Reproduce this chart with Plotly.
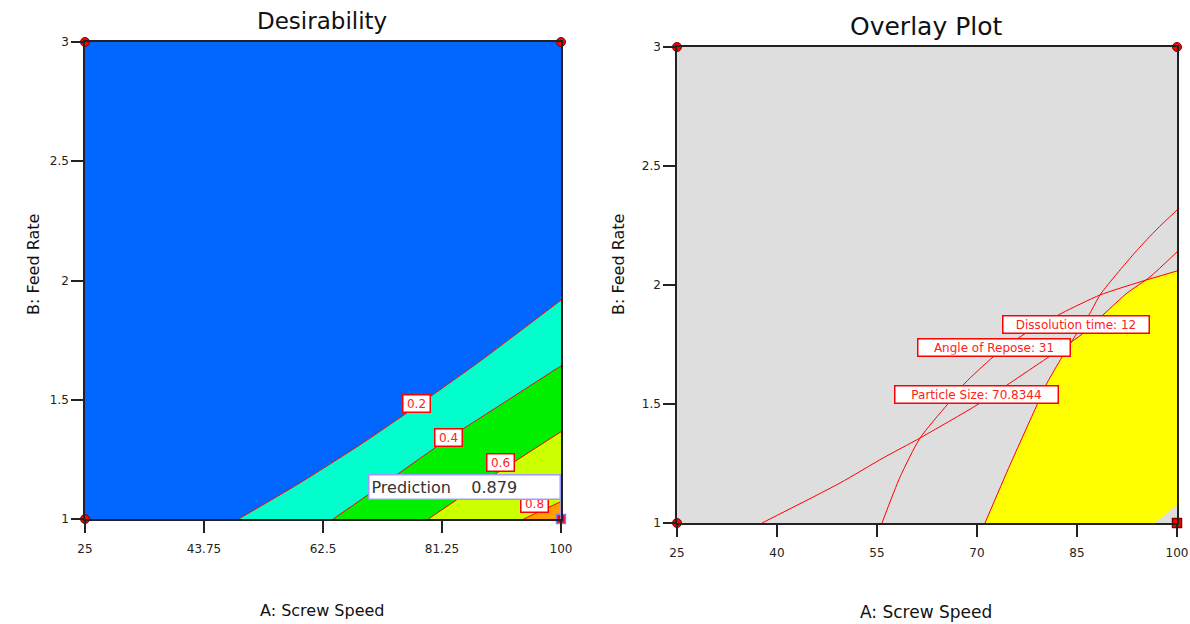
import plotly.graph_objects as go

# ---- factor ranges and tick marks ----
SPEED_RANGE = [25, 100]
FEED_RANGE = [1, 3]
D_SPEED_TICKS = [25, 43.75, 62.5, 81.25, 100]
O_SPEED_TICKS = [25, 40, 55, 70, 85, 100]
FEED_TICKS = [1, 1.5, 2, 2.5, 3]

# ---- desirability contours (screw speed, feed rate) ----
D_LEVELS = ["0.2", "0.4", "0.6", "0.8"]
D02_SPEED = [49.2, 58.6, 68.1, 77.3, 87.0, 100.0]
D02_FEED = [1.0, 1.147, 1.307, 1.474, 1.657, 1.918]
D04_SPEED = [64.1, 73.1, 82.4, 91.2, 100.0]
D04_FEED = [1.0, 1.166, 1.340, 1.491, 1.642]
D06_SPEED = [79.1, 84.2, 89.4, 100.0]
D06_FEED = [1.0, 1.092, 1.184, 1.366]
D08_SPEED = [94.1, 97.0, 100.0]
D08_FEED = [1.0, 1.036, 1.073]
D_LABEL_SPEED = [77.3, 82.35, 90.5, 95.9]
D_LABEL_FEED = [1.486, 1.340, 1.235, 1.063]
D_BASE_COLOR = "#0066FF"
D_BAND_COLORS = ["#00FFCC", "#00F000", "#CCFF00", "#FFA000"]
PREDICTION = 0.879

# ---- overlay constraint contours ----
PS_SPEED = [37.75, 49.45, 55.9, 61.45, 70.0, 74.95, 80.5, 85.6, 89.2, 92.5, 95.95, 100.0]
PS_FEED = [1.0, 1.168, 1.273, 1.357, 1.496, 1.588, 1.693, 1.790, 1.882, 1.966, 2.034, 2.139]
AR_SPEED = [55.75, 58.45, 61.45, 65.5, 68.2, 72.4, 76.9, 82.75, 88.45, 94.45, 100.0]
AR_FEED = [1.0, 1.193, 1.357, 1.496, 1.588, 1.697, 1.790, 1.882, 1.958, 2.013, 2.059]
DT_SPEED = [71.2, 74.95, 79.0, 80.5, 82.75, 85.0, 86.95, 88.45, 91.0, 94.0, 97.0, 100.0]
DT_FEED = [1.0, 1.244, 1.496, 1.588, 1.697, 1.798, 1.882, 1.958, 2.048, 2.146, 2.235, 2.315]
CORNER_SPEED = [96.7, 100.0]
CORNER_FEED = [1.0, 1.076]
O_LABELS = ["Particle Size: 70.8344", "Angle of Repose: 31", "Dissolution time: 12"]
O_LABEL_SPEED = [69.93, 72.55, 84.85]
O_LABEL_FEED = [1.540, 1.739, 1.836]
O_LABEL_WIDTH = [160, 149, 143]
GRAY = "#DEDEDE"
YELLOW = "#FFFF00"
RED = "#FF0000"

FONT = "DejaVu Sans"
W, H = 1190, 624

fig = go.Figure()

x_lo, x_hi = SPEED_RANGE
y_lo, y_hi = FEED_RANGE


def polygon(xs, ys, color, xa, ya):
    fig.add_trace(go.Scatter(x=xs, y=ys, fill="toself", fillcolor=color, mode="lines",
                             line=dict(width=0, color=color), xaxis=xa, yaxis=ya,
                             hoverinfo="skip", showlegend=False))


def contour_line(xs, ys, xa, ya):
    fig.add_trace(go.Scatter(x=xs, y=ys, mode="lines",
                             line=dict(color=RED, width=1, shape="spline", smoothing=0.6),
                             xaxis=xa, yaxis=ya, hoverinfo="skip", showlegend=False))


# ---- Desirability panel ----
d_lines = [(D02_SPEED, D02_FEED), (D04_SPEED, D04_FEED),
           (D06_SPEED, D06_FEED), (D08_SPEED, D08_FEED)]
for (sx, sy), col in zip(d_lines, D_BAND_COLORS):
    polygon(sx + [x_hi], sy + [y_lo], col, "x", "y")
for sx, sy in d_lines:
    contour_line(sx, sy, "x", "y")

# ---- Overlay panel ----
polygon(DT_SPEED + [x_hi], DT_FEED + [y_lo], YELLOW, "x2", "y2")
polygon(AR_SPEED + [x_hi, x_lo, x_lo], AR_FEED + [y_hi, y_hi, y_lo], GRAY, "x2", "y2")
polygon(PS_SPEED + [x_hi, x_lo, x_lo], PS_FEED + [y_hi, y_hi, y_lo], GRAY, "x2", "y2")
polygon(CORNER_SPEED + [x_hi], CORNER_FEED + [y_lo], GRAY, "x2", "y2")
for sx, sy in [(PS_SPEED, PS_FEED), (AR_SPEED, AR_FEED), (DT_SPEED, DT_FEED)]:
    contour_line(sx, sy, "x2", "y2")

# design-space corner points
for xa, ya, sq_line in [("x", "y", "#8080FF"), ("x2", "y2", "#800000")]:
    fig.add_trace(go.Scatter(x=[x_lo, x_lo, x_hi], y=[y_lo, y_hi, y_hi], mode="markers",
                             marker=dict(symbol="circle", size=9, color="#FF0000",
                                         line=dict(color="#800000", width=1)),
                             xaxis=xa, yaxis=ya, cliponaxis=False,
                             hoverinfo="skip", showlegend=False))
    fig.add_trace(go.Scatter(x=[x_hi], y=[y_lo], mode="markers",
                             marker=dict(symbol="square", size=9, color="#FF0000",
                                         line=dict(color=sq_line, width=1.5)),
                             xaxis=xa, yaxis=ya, cliponaxis=False,
                             hoverinfo="skip", showlegend=False))

annotations = []
for lab, lx, ly in zip(D_LEVELS, D_LABEL_SPEED, D_LABEL_FEED):
    annotations.append(dict(x=lx, y=ly, xref="x", yref="y", text=lab, showarrow=False,
                            font=dict(family=FONT, size=12, color="#FF2020"),
                            bgcolor="white", bordercolor=RED, borderwidth=1.5,
                            borderpad=1, width=24, height=14))
# prediction flag
pred_bottom = 1.08
annotations.append(dict(x=x_hi, y=pred_bottom, xref="x", yref="y", xanchor="right",
                        yanchor="bottom", showarrow=False, align="left",
                        text=f"Prediction    {PREDICTION:.3f}",
                        font=dict(family=FONT, size=16, color="#333333"),
                        bgcolor="white", bordercolor="#9A9AFF", borderwidth=1.5,
                        borderpad=2, width=186, height=19))
for lab, lx, ly, lw in zip(O_LABELS, O_LABEL_SPEED, O_LABEL_FEED, O_LABEL_WIDTH):
    annotations.append(dict(x=lx, y=ly, xref="x2", yref="y2", text=lab, showarrow=False,
                            font=dict(family=FONT, size=12, color="#FF2020"),
                            bgcolor="white", bordercolor=RED, borderwidth=1.5,
                            borderpad=1, width=lw, height=14))

# panel titles and axis titles
def ptext(text, px, py, size, angle=0):
    annotations.append(dict(x=px / W, y=1 - py / H, xref="paper", yref="paper",
                            text=text, showarrow=False, textangle=angle,
                            font=dict(family=FONT, size=size, color="#111111"),
                            xanchor="center", yanchor="middle"))

ptext("Desirability", 322, 21, 23)
ptext("Overlay Plot", 926, 27, 25)
ptext("A: Screw Speed", 322, 610, 16)
ptext("A: Screw Speed", 926, 612, 17)
ptext("B: Feed Rate", 33, 265, 16, -90)
ptext("B: Feed Rate", 618, 265, 16, -90)

shapes = [
    dict(type="rect", xref="x domain", yref="y domain", x0=0, x1=1, y0=0, y1=1,
         fillcolor=D_BASE_COLOR, line=dict(width=0), layer="below"),
    dict(type="rect", xref="x2 domain", yref="y2 domain", x0=0, x1=1, y0=0, y1=1,
         fillcolor=GRAY, line=dict(width=0), layer="below"),
    dict(type="line", xref="x", yref="y", x0=x_hi, x1=x_hi, y0=y_lo, y1=pred_bottom,
         line=dict(color="#9A9AFF", width=1.5)),
]


def fmt(v):
    return f"{v:g}"


axis_common = dict(showgrid=False, zeroline=False, showline=True, linecolor="#222222",
                   linewidth=1.5, mirror=True, ticks="outside", ticklen=12, tickwidth=1.5,
                   tickcolor="#222222", automargin=False,
                   tickfont=dict(family=FONT, size=12, color="#222222"))

fig.update_layout(
    template="none",
    width=W, height=H, margin=dict(l=0, r=0, t=0, b=0, pad=0, autoexpand=False),
    paper_bgcolor="white", plot_bgcolor="white", showlegend=False,
    xaxis=dict(domain=[85 / W, 561 / W], range=SPEED_RANGE, anchor="y",
               tickvals=D_SPEED_TICKS, ticktext=[fmt(v) for v in D_SPEED_TICKS],
               ticklabelstandoff=6, **axis_common),
    yaxis=dict(domain=[1 - 519 / H, 1 - 42 / H], range=FEED_RANGE, anchor="x",
               tickvals=FEED_TICKS, ticktext=[fmt(v) for v in FEED_TICKS], **axis_common),
    xaxis2=dict(domain=[677 / W, 1177 / W], range=SPEED_RANGE, anchor="y2",
                tickvals=O_SPEED_TICKS, ticktext=[fmt(v) for v in O_SPEED_TICKS],
                ticklabelstandoff=6, **axis_common),
    yaxis2=dict(domain=[1 - 523 / H, 1 - 47 / H], range=FEED_RANGE, anchor="x2",
                tickvals=FEED_TICKS, ticktext=[fmt(v) for v in FEED_TICKS], **axis_common),
    annotations=annotations,
    shapes=shapes,
)

fig.write_html("out.html")
